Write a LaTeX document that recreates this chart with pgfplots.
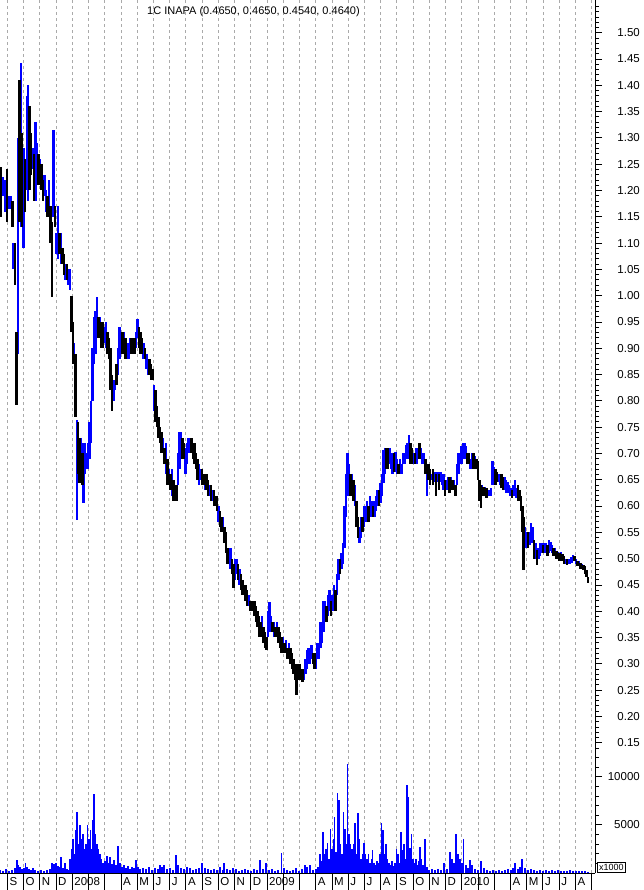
\documentclass[border=0pt]{standalone}
\usepackage{pgfplots}
\pgfplotsset{compat=1.18}
\usepackage{pgfplotstable}
\usepackage{fontspec}
\setmainfont{Liberation Sans}
\definecolor{gridgray}{RGB}{170,170,170}
\definecolor{barblue}{RGB}{0,0,255}

\pgfplotstableread{
x l h
3 1.19 1.225
5 1.16 1.22
9 1.165 1.19
11 1.165 1.19
13.5 1.05 1.10
18 0.89 1.30
20.7 1.13 1.442
23.5 1.09 1.28
27 1.20 1.38
28 1.18 1.40
32.5 1.24 1.28
35.5 1.18 1.33
37 1.23 1.29
40 1.21 1.26
44.5 1.19 1.23
46 1.16 1.20
49 1.16 1.22
53.5 1.15 1.315
56.5 1.08 1.12
58 1.07 1.17
61 1.06 1.12
65.5 1.03 1.06
68.5 1.02 1.05
70 1.01 1.05
74 0.87 0.91
77 0.573 0.764
81 0.65 0.73
83.5 0.606 0.72
85 0.66 0.72
86.5 0.67 0.70
88 0.67 0.72
89.5 0.69 0.76
91 0.72 0.80
92.5 0.80 0.90
94 0.87 0.96
95.5 0.89 0.97
97 0.92 0.998
100 0.92 0.96
104.5 0.91 0.94
106 0.90 0.95
113.5 0.80 0.84
115 0.82 0.84
118 0.85 0.90
119.5 0.88 0.94
121 0.89 0.93
124 0.89 0.93
127 0.88 0.91
128.5 0.88 0.91
130 0.89 0.92
133 0.90 0.92
136 0.90 0.93
137.5 0.92 0.955
143.5 0.88 0.91
146.5 0.86 0.89
148 0.85 0.88
154 0.78 0.83
163 0.70 0.73
166 0.66 0.72
169 0.64 0.67
172 0.62 0.67
175 0.61 0.64
178 0.64 0.70
179.5 0.67 0.74
181 0.69 0.74
185.5 0.66 0.71
187 0.68 0.72
188.5 0.70 0.73
190 0.70 0.73
199 0.64 0.68
200.5 0.65 0.67
205 0.63 0.66
209.5 0.62 0.64
212.5 0.61 0.63
218.5 0.57 0.60
223 0.55 0.58
229 0.49 0.51
230.5 0.48 0.52
235 0.46 0.50
236.5 0.47 0.50
239.5 0.45 0.48
244 0.43 0.45
248.5 0.41 0.43
253 0.40 0.42
262 0.36 0.39
268 0.35 0.40
269.5 0.36 0.418
271 0.36 0.39
274 0.35 0.38
277 0.35 0.38
283 0.32 0.35
286 0.32 0.345
289 0.31 0.34
301 0.27 0.29
304 0.27 0.29
305.5 0.28 0.31
307 0.29 0.326
308.5 0.30 0.33
310 0.30 0.33
311.5 0.31 0.335
316 0.29 0.31
317.5 0.31 0.34
319 0.31 0.34
320.5 0.33 0.38
322 0.34 0.37
323.5 0.36 0.42
325 0.38 0.42
328 0.39 0.43
329.5 0.40 0.44
332.5 0.40 0.43
334 0.41 0.45
337 0.43 0.47
338.5 0.46 0.50
341.5 0.48 0.51
343 0.49 0.53
344.5 0.52 0.60
346 0.58 0.66
347.5 0.62 0.70
349 0.63 0.68
352 0.63 0.66
355 0.60 0.64
359.5 0.53 0.56
361 0.54 0.58
364 0.56 0.60
365.5 0.57 0.60
367 0.58 0.61
370 0.58 0.62
371.5 0.58 0.61
374.5 0.58 0.61
376 0.59 0.62
377.5 0.60 0.63
380.5 0.606 0.644
382 0.62 0.66
383.5 0.644 0.707
385 0.66 0.71
389.5 0.68 0.71
391 0.67 0.70
392.5 0.66 0.70
395.5 0.665 0.703
397 0.66 0.69
400 0.66 0.69
401.5 0.66 0.68
403 0.68 0.70
404.5 0.68 0.70
406 0.69 0.716
407.5 0.69 0.72
409 0.70 0.735
413.5 0.68 0.70
416.5 0.68 0.71
418 0.69 0.71
421 0.69 0.71
422.5 0.68 0.70
424 0.68 0.70
427 0.62 0.67
431.5 0.65 0.66
434.5 0.645 0.665
437.5 0.645 0.665
440.5 0.645 0.665
442 0.64 0.66
443.5 0.63 0.66
446.5 0.63 0.65
448 0.635 0.655
451 0.63 0.655
454 0.63 0.65
457 0.64 0.68
458.5 0.66 0.70
460 0.68 0.70
461.5 0.68 0.715
463 0.69 0.72
464.5 0.69 0.72
466 0.69 0.715
470.5 0.67 0.69
472 0.68 0.70
475 0.675 0.695
482 0.62 0.64
485 0.62 0.636
488 0.62 0.63
489.5 0.62 0.63
491 0.62 0.635
492.5 0.64 0.685
494 0.65 0.675
498.5 0.645 0.66
500 0.64 0.66
504.5 0.63 0.655
506 0.625 0.65
507.5 0.625 0.645
509 0.625 0.64
510.5 0.62 0.635
513.5 0.62 0.64
515 0.62 0.65
516.5 0.615 0.635
525 0.52 0.56
526.5 0.52 0.55
529.5 0.525 0.55
531 0.535 0.567
532.5 0.53 0.56
535.5 0.50 0.53
538.5 0.50 0.52
540 0.505 0.53
541.5 0.51 0.53
544.5 0.51 0.53
546 0.51 0.53
549 0.51 0.535
550.5 0.515 0.532
552 0.51 0.525
555 0.505 0.52
558 0.502 0.512
561 0.50 0.512
565.5 0.49 0.50
568.5 0.49 0.50
570 0.49 0.50
571.5 0.492 0.503
573 0.495 0.506
576 0.49 0.50
579 0.485 0.495
582 0.48 0.49
}\upbars

\pgfplotstableread{
x l h
1 1.15 1.245
7 1.14 1.24
12.5 1.13 1.18
15 1.02 1.10
16.5 0.792 0.93
19.5 1.14 1.41
22 1.13 1.31
25 1.16 1.26
29.5 1.20 1.36
31 1.23 1.31
34 1.18 1.27
38.5 1.21 1.27
41.5 1.20 1.25
43 1.18 1.22
47.5 1.15 1.19
50.5 1.10 1.17
52 0.998 1.14
55 1.13 1.17
59.5 1.08 1.12
62.5 1.06 1.09
64 1.04 1.08
67 1.03 1.06
71.5 0.93 1.00
73 0.87 0.95
75.5 0.77 0.89
78 0.66 0.76
79.5 0.644 0.73
82.5 0.64 0.70
98.5 0.92 0.96
101.5 0.90 0.95
103 0.90 0.95
107.5 0.89 0.93
109 0.88 0.92
110.5 0.82 0.90
112 0.78 0.85
116.5 0.83 0.87
122.5 0.89 0.93
125.5 0.88 0.92
131.5 0.89 0.92
134.5 0.89 0.92
139 0.90 0.94
140.5 0.89 0.93
142 0.89 0.92
145 0.88 0.90
149.5 0.85 0.88
151 0.84 0.87
152.5 0.84 0.86
155.5 0.76 0.82
157 0.75 0.79
158.5 0.73 0.77
160 0.72 0.75
161.5 0.70 0.74
164.5 0.68 0.71
167.5 0.64 0.69
170.5 0.63 0.66
173.5 0.61 0.65
176.5 0.61 0.64
182.5 0.69 0.73
184 0.69 0.72
191.5 0.70 0.73
193 0.69 0.72
194.5 0.68 0.72
196 0.67 0.70
197.5 0.65 0.69
202 0.64 0.67
203.5 0.64 0.66
206.5 0.63 0.66
208 0.62 0.65
211 0.61 0.64
214 0.60 0.63
215.5 0.60 0.62
217 0.59 0.62
220 0.56 0.59
221.5 0.55 0.58
224.5 0.53 0.56
226 0.51 0.55
227.5 0.49 0.52
232 0.47 0.50
233.5 0.445 0.49
238 0.46 0.49
241 0.44 0.47
242.5 0.43 0.46
245.5 0.42 0.45
247 0.41 0.44
250 0.40 0.42
251.5 0.40 0.42
254.5 0.39 0.42
256 0.38 0.41
257.5 0.37 0.40
259 0.35 0.39
260.5 0.35 0.38
263.5 0.34 0.37
265 0.33 0.36
266.5 0.326 0.35
272.5 0.36 0.38
275.5 0.35 0.37
278.5 0.34 0.37
280 0.33 0.36
281.5 0.32 0.35
284.5 0.32 0.34
287.5 0.31 0.33
290.5 0.30 0.33
292 0.29 0.32
293.5 0.28 0.31
295 0.27 0.30
296.5 0.24 0.30
298 0.27 0.29
299.5 0.27 0.30
302.5 0.265 0.29
313 0.30 0.32
314.5 0.29 0.32
326.5 0.38 0.41
331 0.39 0.42
335.5 0.40 0.44
340 0.47 0.50
350.5 0.62 0.66
353.5 0.61 0.65
356.5 0.56 0.61
358 0.54 0.58
362.5 0.55 0.58
368.5 0.57 0.60
373 0.58 0.60
379 0.60 0.63
386.5 0.67 0.71
388 0.67 0.71
394 0.665 0.70
398.5 0.66 0.68
410.5 0.68 0.72
412 0.68 0.71
415 0.68 0.70
419.5 0.69 0.72
425.5 0.66 0.69
428.5 0.65 0.68
430 0.64 0.67
433 0.64 0.67
436 0.62 0.66
439 0.63 0.66
445 0.62 0.65
449.5 0.625 0.655
452.5 0.63 0.65
455.5 0.62 0.64
467.5 0.68 0.70
469 0.68 0.70
473.5 0.67 0.70
476.5 0.67 0.69
478 0.65 0.685
479.5 0.61 0.65
480.7 0.596 0.64
483.5 0.62 0.636
486.5 0.615 0.635
495.5 0.64 0.67
497 0.645 0.665
501.5 0.635 0.66
503 0.63 0.655
512 0.615 0.63
518 0.61 0.64
519.5 0.61 0.63
521 0.59 0.62
522.5 0.55 0.60
523.5 0.478 0.58
528 0.52 0.55
534 0.50 0.535
537 0.488 0.516
543 0.51 0.525
547.5 0.505 0.525
553.5 0.505 0.52
556.5 0.50 0.515
559.5 0.496 0.51
562.5 0.495 0.508
564 0.49 0.505
567 0.488 0.50
574.5 0.495 0.505
577.5 0.485 0.495
580.5 0.48 0.492
583.5 0.478 0.488
585 0.47 0.485
586.5 0.465 0.478
588 0.454 0.465
}\downbars

\pgfplotstableread{
x v
0 300
3 200
6 400
9 250
12 300
15 500
17 1350
18.5 800
20 600
22 400
24 500
25.5 1000
27 600
29 400
31 300
33 500
35 300
38 200
41 300
44 250
47 300
50 400
52 1000
54 900
56 1000
58 700
60 600
61 1700
63 500
65 1000
67 400
69 300
70 1500
71.5 2500
73 3500
74.5 2000
76 4500
77 6300
78.5 3000
80 5000
81.5 3500
83 4000
84.5 2500
86 3000
87.5 5000
89 3500
90.5 4500
92 2500
93 5500
94 8200
95.5 4000
97 3000
98.5 2500
100 2000
101.5 1500
103 1000
105 1200
107 1800
109 1000
110 1700
112 900
114 1300
116 800
118 2800
120 1000
122 600
124 800
126 500
128 700
130 400
132 600
134 500
136 1300
138 600
140 400
143 500
146 400
149 600
152 300
155 500
158 400
160 800
162 600
164 800
167 400
170 500
173 300
176 1900
178 800
181 500
184 400
187 600
190 500
193 300
196 400
199 500
202 1000
205 500
208 400
211 300
214 400
217 300
220 600
223 300
224 1000
227 400
230 300
233 500
236 400
239 200
242 300
245 400
248 300
251 200
254 400
257 300
260 1350
263 400
266 1000
269 300
272 400
275 200
278 300
281.7 2080
284 500
287 300
290 200
293 300
296 500
299 200
302 400
305 800
307 600
310 800
313 300
316 400
318 600
320 2000
321.5 1200
323 4270
324.5 2000
326 2500
327.5 3100
329 1500
330.5 4600
332 2500
333.5 3500
334.5 5800
336 2200
337.5 8300
339 7600
340.5 3000
342 2000
343.5 6300
345 4600
346.5 3000
347.7 11300
349 4000
350.5 3000
352 2500
353.5 3000
355 5200
356.5 2000
358 6200
359.5 3500
361 1500
362.5 2000
364 3100
365.5 2000
367 1500
368.5 2000
370 1000
371.5 1500
372.5 2400
374 1000
375.5 800
377 1200
378.5 1000
380 2000
381.5 5200
383 4500
384.5 2000
386 3000
387.5 1500
389 1000
390.5 800
392 1200
393.5 700
395 1000
396.5 2500
398 2000
399.5 1000
401 4300
402.5 2400
404 3000
405.5 1500
407 9100
408.5 7900
410 2600
411.5 4000
413 1500
414.5 1000
416 1500
417.5 800
419 1200
420 2700
421.5 1500
423 800
425 3500
427 600
429 300
432 400
435 300
438 400
441 300
444 1000
447 400
450 2200
452 1500
454 1000
456 4000
458 2000
460 1500
462 1000
463.5 3500
466 800
468 500
470 1300
472 800
475 400
478 300
481 1200
484 500
487 300
490 200
493 300
496 200
499 300
502 200
505 300
508 400
511 300
513 500
515 1000
518 400
520 600
522 1500
525 500
528 300
531 400
534 300
537 200
540 300
543 200
546 300
549 200
552 300
555 200
558 300
561 200
564 250
567 200
570 300
573 200
576 250
579 200
582 250
585 200
588 150
}\voldata

\begin{document}
\begin{tikzpicture}[x=1pt,y=1pt]
\useasboundingbox (0,-17) rectangle (644,873);
% monthly dashed grid lines
\foreach \k in {0,...,36}{
  \pgfmathsetmacro\xx{7.3+16.23*\k}
  \draw[gridgray, line width=0.7pt, dash pattern=on 3pt off 3pt] (\xx,0) -- (\xx,873);
}
% price axis
\begin{axis}[
  at={(0,0)}, anchor=south west,
  scale only axis, width=595pt, height=873pt,
  xmin=0, xmax=595, ymin=-0.0978, ymax=1.5622,
  axis x line*=bottom, axis y line*=right,
  xtick=\empty,
  ytick={0.15,0.20,...,1.50},
  minor ytick={0.14,0.15,...,1.55},
  tick align=outside,
  major tick length=7pt, minor tick length=4pt,
  every tick/.style={black, line width=0.8pt},
  axis line style={black, line width=0.8pt},
  /pgf/number format/assume math mode=true,
  yticklabel style={/pgf/number format/.cd, fixed, fixed zerofill, precision=2, /tikz/.cd,
     font=\fontsize{11.5}{13}\selectfont, anchor=east, inner sep=0pt, xshift=38pt},
  clip=false,
]
\addplot[draw=none, mark=none, forget plot, error bars/.cd, y dir=both, y explicit, error mark=none,
  error bar style={draw=barblue, line width=2.1pt}]
  table[x=x, y expr={(\thisrow{h}+\thisrow{l})/2}, y error expr={(\thisrow{h}-\thisrow{l})/2}] {\upbars};
\addplot[draw=none, mark=none, forget plot, error bars/.cd, y dir=both, y explicit, error mark=none,
  error bar style={draw=black, line width=2.1pt}]
  table[x=x, y expr={(\thisrow{h}+\thisrow{l})/2}, y error expr={(\thisrow{h}-\thisrow{l})/2}] {\downbars};
\end{axis}
% volume axis
\begin{axis}[
  at={(0,0)}, anchor=south west,
  scale only axis, width=595pt, height=873pt,
  xmin=0, xmax=595, ymin=0, ymax=90650,
  axis x line=none, axis y line*=right,
  ytick={5000,10000},
  minor ytick={1000,2000,3000,4000,6000,7000,8000,9000,11000,12000},
  tick align=outside,
  major tick length=7pt, minor tick length=4pt,
  every tick/.style={black, line width=0.8pt},
  axis line style={black, line width=0.8pt},
  scaled y ticks=false,
  /pgf/number format/assume math mode=true,
  yticklabel style={/pgf/number format/.cd, fixed, 1000 sep={}, /tikz/.cd,
     font=\fontsize{11.5}{13}\selectfont, anchor=east, inner sep=0pt, xshift=38pt},
]
\addplot[ycomb, barblue, line width=1.3pt] table[x=x, y=v] {\voldata};
\end{axis}
% month separators and labels
\foreach \k in {0,...,36}{
  \pgfmathsetmacro\xx{7.3+16.23*\k}
  \draw[black, line width=0.8pt] (\xx,0) -- (\xx,-17);
}
\foreach \k/\lab in {0/S,1/O,2/N,3/D,4/2008,7/A,8/M,9/J,10/J,11/A,12/S,13/O,14/N,15/D,16/2009,19/A,20/M,21/J,22/J,23/A,24/S,25/O,26/N,27/D,28/2010,31/A,32/M,33/J,34/J,35/A}{
  \pgfmathsetmacro\xx{7.3+16.23*\k+2}
  \node[anchor=west, inner sep=0pt, font=\fontsize{11.5}{13}\selectfont] at (\xx,-8.5) {\lab};
}
% title
\node[anchor=west, inner sep=0pt, font=\fontsize{11}{13}\selectfont] at (147,861) {1C INAPA (0.4650, 0.4650, 0.4540, 0.4640)};
% x1000 box
\node[draw=black, line width=0.8pt, fill=white, anchor=south west, inner sep=1pt, minimum width=28pt, minimum height=10.5pt, font=\fontsize{9}{10}\selectfont] at (597,0) {x1000};
\end{tikzpicture}
\end{document}
